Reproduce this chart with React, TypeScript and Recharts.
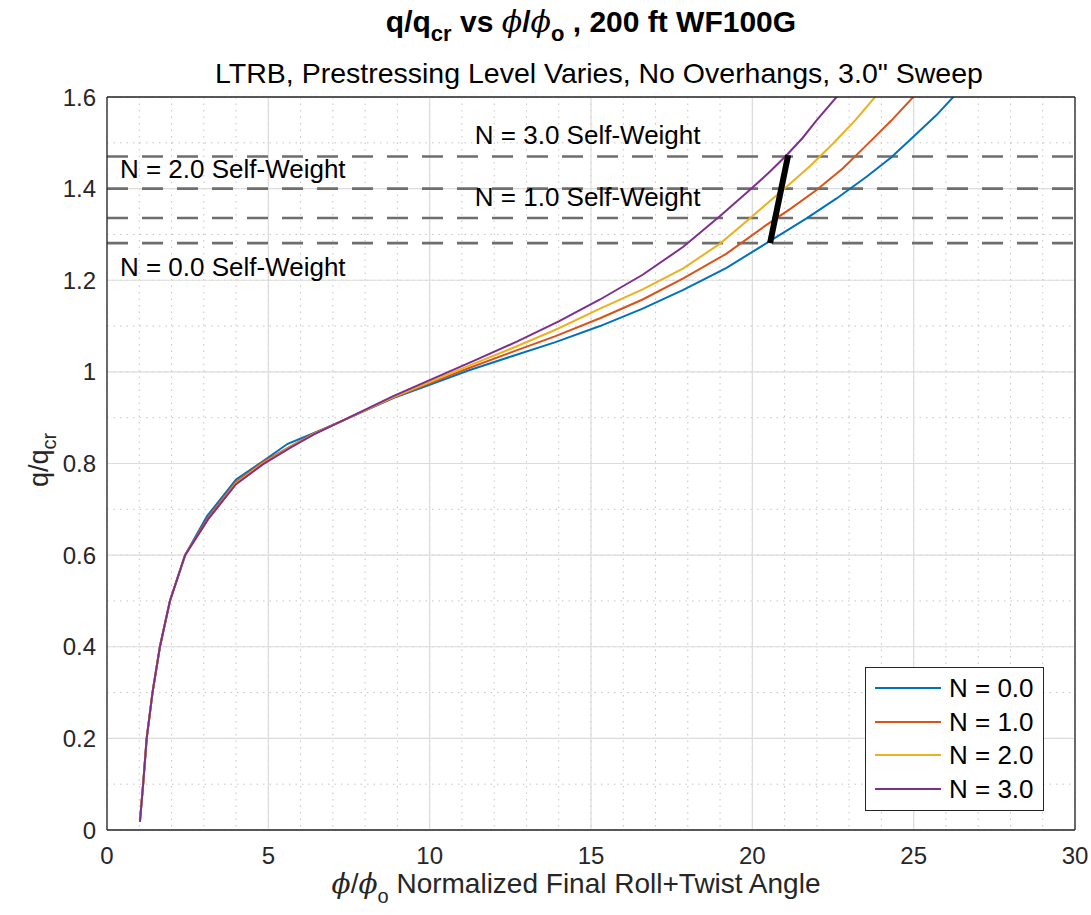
import { LineChart, Line, XAxis, YAxis, CartesianGrid, ReferenceLine, ReferenceDot, Legend } from 'recharts';

// phi/phi_o vs q/q_cr, one array per prestressing level
const n00 = [
  { x: 1.02, y: 0.018 }, { x: 1.12, y: 0.1 }, { x: 1.23, y: 0.2 }, { x: 1.41, y: 0.3 },
  { x: 1.64, y: 0.4 }, { x: 1.95, y: 0.5 }, { x: 2.42, y: 0.6 }, { x: 3.1, y: 0.685 },
  { x: 4.0, y: 0.765 }, { x: 4.83, y: 0.805 }, { x: 5.6, y: 0.843 }, { x: 6.4, y: 0.866 },
  { x: 7.22, y: 0.891 }, { x: 8.87, y: 0.943 }, { x: 10, y: 0.972 }, { x: 11.2, y: 1.003 },
  { x: 12.5, y: 1.033 }, { x: 13.9, y: 1.065 }, { x: 15.28, y: 1.1 }, { x: 16.6, y: 1.138 },
  { x: 17.86, y: 1.179 }, { x: 19.2, y: 1.227 }, { x: 20.44, y: 1.281 }, { x: 21.68, y: 1.335 },
  { x: 22.6, y: 1.378 }, { x: 23.54, y: 1.426 }, { x: 24.3, y: 1.468 }, { x: 24.99, y: 1.513 },
  { x: 25.7, y: 1.56 }, { x: 26.28, y: 1.604 },
];
const n10 = [
  { x: 1.02, y: 0.018 }, { x: 1.12, y: 0.1 }, { x: 1.23, y: 0.2 }, { x: 1.41, y: 0.3 },
  { x: 1.64, y: 0.4 }, { x: 1.95, y: 0.5 }, { x: 2.42, y: 0.6 }, { x: 3.13, y: 0.682 },
  { x: 4.0, y: 0.76 }, { x: 4.83, y: 0.803 }, { x: 5.7, y: 0.838 }, { x: 6.4, y: 0.865 },
  { x: 7.22, y: 0.891 }, { x: 8.87, y: 0.944 }, { x: 10, y: 0.975 }, { x: 11.2, y: 1.008 },
  { x: 12.5, y: 1.042 }, { x: 13.9, y: 1.078 }, { x: 15.28, y: 1.117 }, { x: 16.6, y: 1.158 },
  { x: 17.86, y: 1.204 }, { x: 19.2, y: 1.258 }, { x: 20.44, y: 1.321 }, { x: 21.2, y: 1.357 },
  { x: 21.99, y: 1.397 }, { x: 22.8, y: 1.444 }, { x: 23.54, y: 1.495 }, { x: 24.3, y: 1.548 },
  { x: 25.04, y: 1.604 },
];
const n20 = [
  { x: 1.02, y: 0.018 }, { x: 1.12, y: 0.1 }, { x: 1.23, y: 0.2 }, { x: 1.41, y: 0.3 },
  { x: 1.64, y: 0.4 }, { x: 1.95, y: 0.5 }, { x: 2.42, y: 0.6 }, { x: 3.15, y: 0.68 },
  { x: 4.0, y: 0.757 }, { x: 4.83, y: 0.8 }, { x: 5.7, y: 0.837 }, { x: 6.4, y: 0.864 },
  { x: 7.22, y: 0.891 }, { x: 8.87, y: 0.945 }, { x: 10, y: 0.978 }, { x: 11.2, y: 1.013 },
  { x: 12.5, y: 1.05 }, { x: 13.9, y: 1.092 }, { x: 15.28, y: 1.138 }, { x: 16.6, y: 1.18 },
  { x: 17.86, y: 1.226 }, { x: 19.0, y: 1.28 }, { x: 19.92, y: 1.335 }, { x: 21.06, y: 1.404 },
  { x: 21.8, y: 1.45 }, { x: 22.51, y: 1.499 }, { x: 23.2, y: 1.55 }, { x: 23.85, y: 1.604 },
];
const n30 = [
  { x: 1.02, y: 0.018 }, { x: 1.12, y: 0.1 }, { x: 1.23, y: 0.2 }, { x: 1.41, y: 0.3 },
  { x: 1.64, y: 0.4 }, { x: 1.95, y: 0.5 }, { x: 2.42, y: 0.6 }, { x: 3.13, y: 0.678 },
  { x: 4.0, y: 0.755 }, { x: 4.83, y: 0.798 }, { x: 5.7, y: 0.835 }, { x: 6.4, y: 0.863 },
  { x: 7.22, y: 0.891 }, { x: 8.87, y: 0.947 }, { x: 10, y: 0.982 }, { x: 11.4, y: 1.025 },
  { x: 12.7, y: 1.066 }, { x: 14.0, y: 1.11 }, { x: 15.28, y: 1.158 }, { x: 16.6, y: 1.212 },
  { x: 17.86, y: 1.273 }, { x: 19.0, y: 1.34 }, { x: 19.92, y: 1.397 }, { x: 20.5, y: 1.434 },
  { x: 21.06, y: 1.473 }, { x: 21.55, y: 1.51 }, { x: 21.99, y: 1.549 }, { x: 22.66, y: 1.604 },
];
// self-weight locus across the four curves
const selfWeightPath = [{ x: 20.55, y: 1.281 }, { x: 21.11, y: 1.473 }];

const selfWeightLevels = [1.281, 1.336, 1.4, 1.47];
const selfWeightLabels = [
  { text: 'N = 0.0 Self-Weight', x: 0.4, y: 1.229 },
  { text: 'N = 1.0 Self-Weight', x: 11.4, y: 1.382 },
  { text: 'N = 2.0 Self-Weight', x: 0.4, y: 1.443 },
  { text: 'N = 3.0 Self-Weight', x: 11.4, y: 1.517 },
];

const xTicks = [0, 5, 10, 15, 20, 25, 30];
const yTicks = [0, 0.2, 0.4, 0.6, 0.8, 1, 1.2, 1.4, 1.6];
const xMinor = Array.from({ length: 31 }, (_, i) => i);
const yMinor = Array.from({ length: 33 }, (_, i) => +(i * 0.05).toFixed(2));

const series = [
  { name: 'N = 0.0', data: n00, color: '#0072BD' },
  { name: 'N = 1.0', data: n10, color: '#D95319' },
  { name: 'N = 2.0', data: n20, color: '#EDB120' },
  { name: 'N = 3.0', data: n30, color: '#7E2F8E' },
];

const FONT = '"Liberation Sans", Arial, Helvetica, sans-serif';
const SYM = '"DejaVu Serif", serif';
const AXIS = '#262626';

const LegendBox = () => (
  <div
    style={{
      border: `1px solid ${AXIS}`,
      background: '#fff',
      width: 177,
      height: 139,
      boxSizing: 'content-box',
      paddingTop: 3,
    }}
  >
    {series.map((s) => (
      <div key={s.name} style={{ display: 'flex', alignItems: 'center', height: 33.7 }}>
        <div style={{ width: 66, height: 2, marginLeft: 9, background: s.color }} />
        <span style={{ marginLeft: 8, fontSize: 26, color: '#000', lineHeight: 1 }}>{s.name}</span>
      </div>
    ))}
  </div>
);

const centered = { position: 'absolute' as const, left: 107, width: 968, textAlign: 'center' as const, whiteSpace: 'nowrap' as const };

export default function App() {
  return (
    <div
      style={{
        position: 'absolute',
        left: 0,
        top: 0,
        width: 1091,
        height: 915,
        background: '#fff',
        fontFamily: FONT,
      }}
    >
      <div style={{ ...centered, top: 4, fontSize: 30, fontWeight: 700, color: '#000' }}>
        q/q<sub style={{ fontSize: 22, verticalAlign: -9 }}>cr</sub> vs <i style={{ fontFamily: SYM, fontWeight: 400 }}>ϕ</i>/<i style={{ fontFamily: SYM, fontWeight: 400 }}>ϕ</i>
        <sub style={{ fontSize: 22, verticalAlign: -9 }}>o</sub> , 200 ft WF100G
      </div>
      <div style={{ ...centered, top: 57, fontSize: 28.5, color: '#000', paddingLeft: 16, boxSizing: 'border-box' }}>
        LTRB, Prestressing Level Varies, No Overhangs, 3.0" Sweep
      </div>
      <div style={{ ...centered, top: 867, fontSize: 28, color: AXIS, paddingRight: 30, boxSizing: 'border-box' }}>
        <i style={{ fontFamily: SYM }}>ϕ</i>/<i style={{ fontFamily: SYM }}>ϕ</i>
        <sub style={{ fontSize: 20, verticalAlign: -10 }}>o</sub> Normalized Final Roll+Twist Angle
      </div>
      <div
        style={{
          position: 'absolute',
          left: 42,
          top: 460,
          transform: 'translate(-50%, -50%) rotate(-90deg)',
          whiteSpace: 'nowrap',
          fontSize: 27,
          color: AXIS,
        }}
      >
        q/q<sub style={{ fontSize: 20, verticalAlign: -8 }}>cr</sub>
      </div>

      <LineChart width={1091} height={915} margin={{ top: 97, right: 16, bottom: 0, left: 0 }} style={{ position: 'absolute', left: 0, top: 0 }}>
        <XAxis
          xAxisId={0}
          type="number"
          dataKey="x"
          domain={[0, 30]}
          ticks={xTicks}
          allowDataOverflow
          height={85}
          tickSize={0}
          tickMargin={17}
          tickLine={false}
          axisLine={{ stroke: AXIS, strokeWidth: 1.3 }}
          tick={{ fill: AXIS, fontSize: 24, fontFamily: FONT }}
        />
        <XAxis xAxisId="bm" type="number" dataKey="x" domain={[0, 30]} ticks={xTicks} allowDataOverflow orientation="bottom" mirror tick={false} tickSize={10} axisLine={false} tickLine={{ stroke: AXIS, strokeWidth: 1.3 }} />
        <XAxis xAxisId="top" type="number" dataKey="x" domain={[0, 30]} ticks={xTicks} allowDataOverflow orientation="top" mirror tick={false} tickSize={10} axisLine={{ stroke: AXIS, strokeWidth: 1.3 }} tickLine={{ stroke: AXIS, strokeWidth: 1.3 }} />
        <YAxis
          yAxisId={0}
          type="number"
          domain={[0, 1.6]}
          ticks={yTicks}
          allowDataOverflow
          width={107}
          tickSize={0}
          tickMargin={11}
          tickLine={false}
          axisLine={{ stroke: AXIS, strokeWidth: 1.3 }}
          tick={{ fill: AXIS, fontSize: 24, fontFamily: FONT }}
        />
        <YAxis yAxisId="lm" type="number" domain={[0, 1.6]} ticks={yTicks} allowDataOverflow orientation="left" mirror tick={false} tickSize={10} axisLine={false} tickLine={{ stroke: AXIS, strokeWidth: 1.3 }} />
        <YAxis yAxisId="right" type="number" domain={[0, 1.6]} ticks={yTicks} allowDataOverflow orientation="right" mirror tick={false} tickSize={10} axisLine={{ stroke: AXIS, strokeWidth: 1.3 }} tickLine={{ stroke: AXIS, strokeWidth: 1.3 }} />

        <CartesianGrid xAxisId={0} yAxisId={0} verticalValues={xMinor} horizontalValues={yMinor} stroke="#c4c4c4" strokeDasharray="1.5 5" />
        <CartesianGrid xAxisId={0} yAxisId={0} verticalValues={xTicks} horizontalValues={yTicks} stroke="#dcdcdc" strokeWidth={1.2} />

        {selfWeightLevels.map((v) => (
          <ReferenceLine key={v} xAxisId={0} yAxisId={0} y={v} stroke="#6e6e6e" strokeWidth={2.6} strokeDasharray="21 14" />
        ))}

        {series.map((s) => (
          <Line
            key={s.name}
            xAxisId={0}
            yAxisId={0}
            data={s.data}
            dataKey="y"
            name={s.name}
            type="linear"
            stroke={s.color}
            strokeWidth={2}
            dot={false}
            isAnimationActive={false}
          />
        ))}
        <Line
          xAxisId={0}
          yAxisId={0}
          data={selfWeightPath}
          dataKey="y"
          name="self-weight"
          legendType="none"
          stroke="#000"
          strokeWidth={6}
          dot={false}
          isAnimationActive={false}
        />

        {selfWeightLabels.map((l) => (
          <ReferenceDot
            key={l.text}
            xAxisId={0}
            yAxisId={0}
            x={l.x}
            y={l.y}
            r={0}
            shape={(p: any) => (
              <text x={p.cx} y={p.cy} dy="0.36em" fontSize={26} fontFamily={FONT} fill="#000">
                {l.text}
              </text>
            )}
          />
        ))}

        <Legend
          layout="vertical"
          align="center"
          verticalAlign="middle"
          content={() => <LegendBox />}
          wrapperStyle={{ left: 865, top: 667, width: 180, height: 143 }}
        />
      </LineChart>
    </div>
  );
}
